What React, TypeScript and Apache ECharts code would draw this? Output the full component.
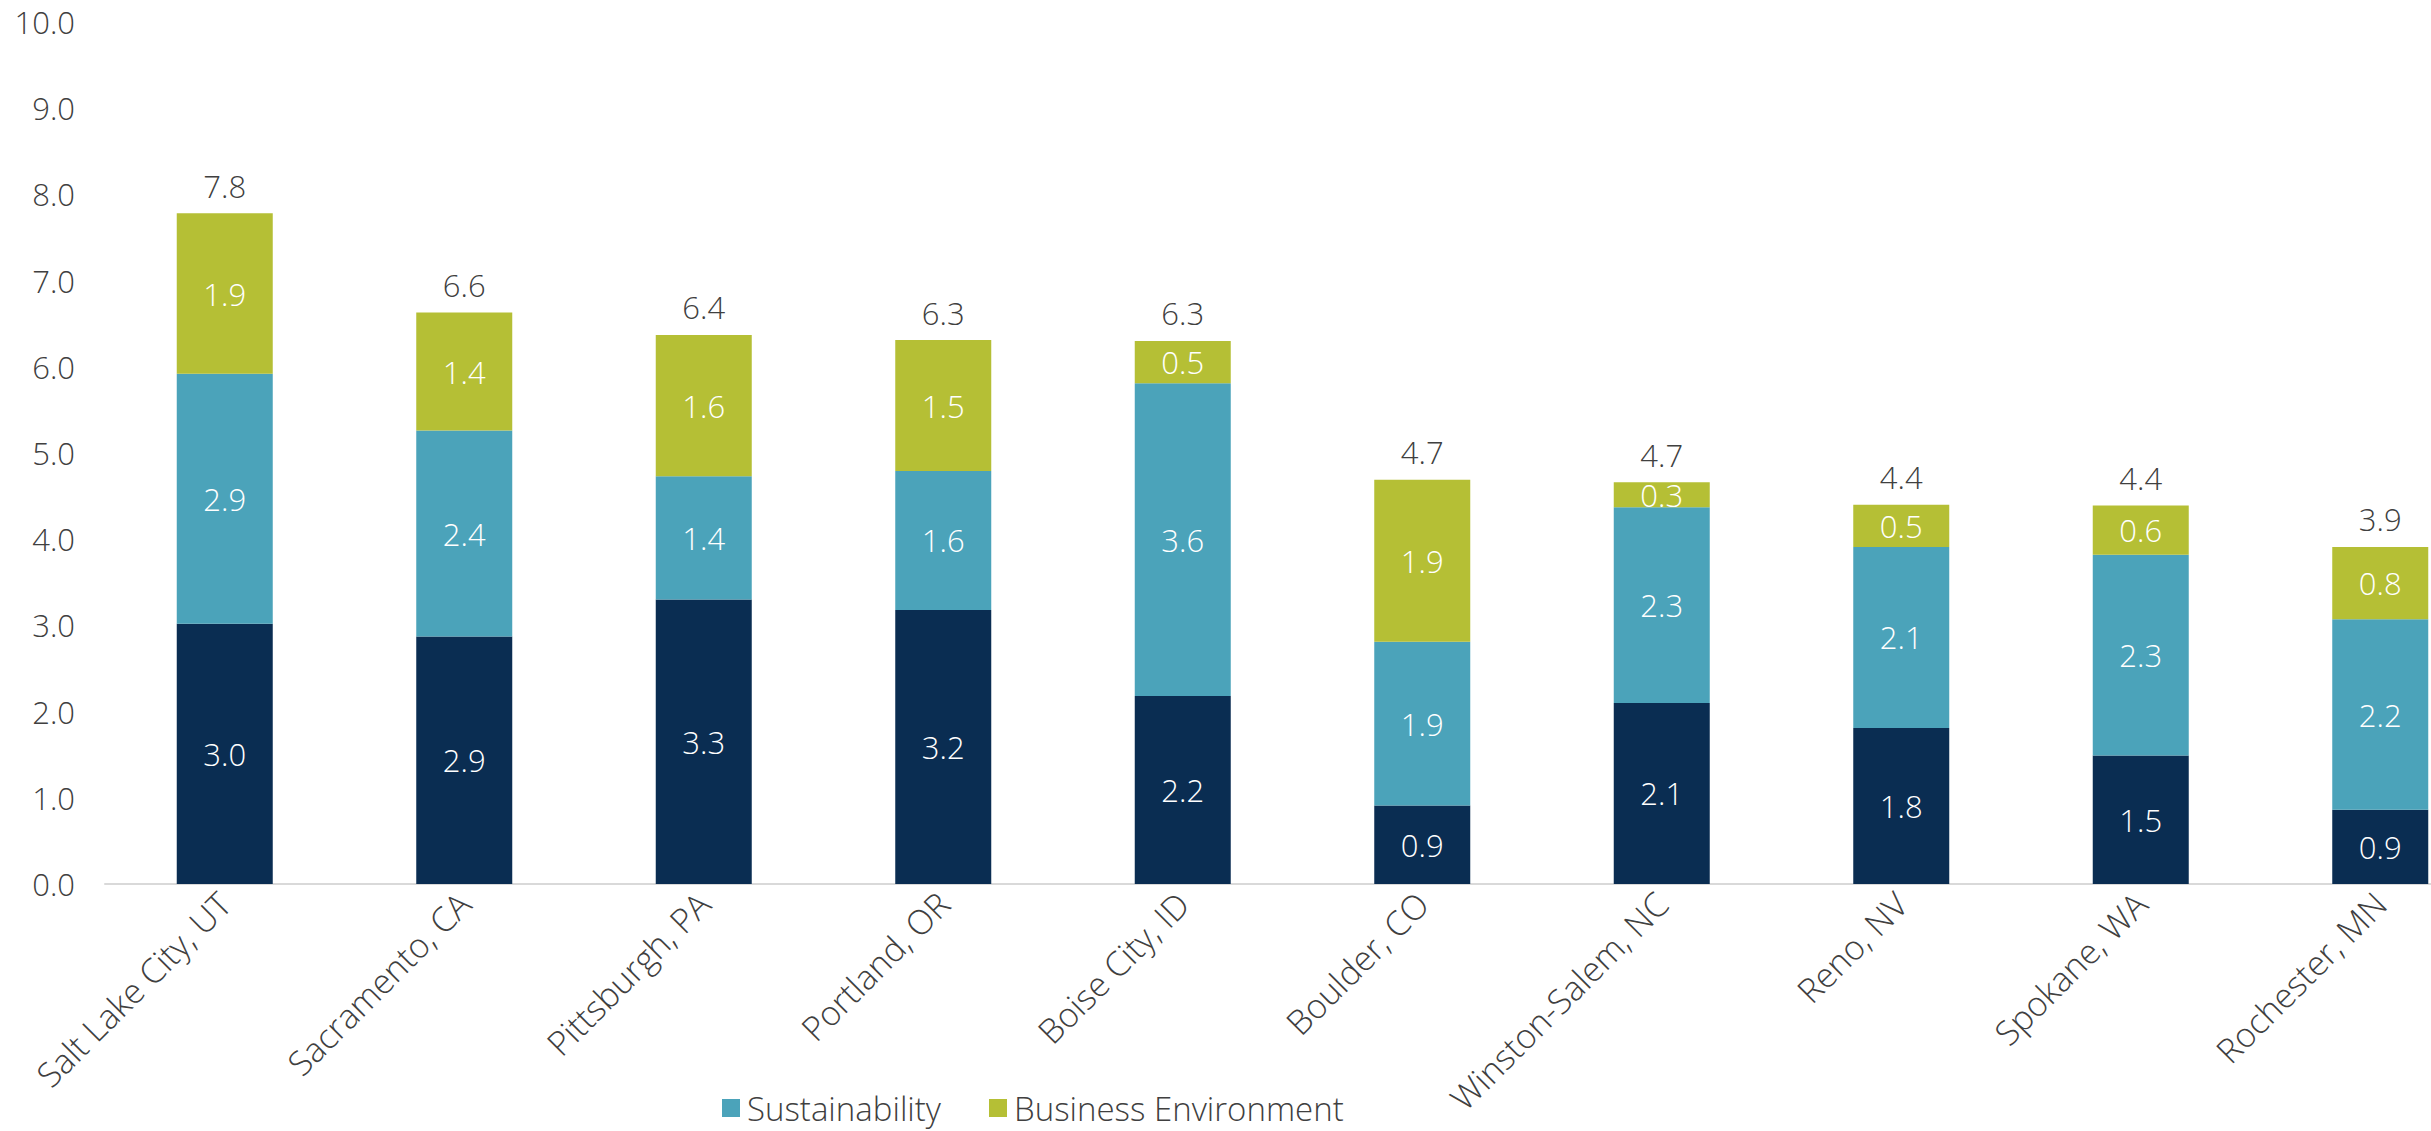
import React, { useEffect, useRef } from "react";
import * as echarts from "echarts";

const categories = [
  "Salt Lake City, UT",
  "Sacramento, CA",
  "Pittsburgh, PA",
  "Portland, OR",
  "Boise City, ID",
  "Boulder, CO",
  "Winston-Salem, NC",
  "Reno, NV",
  "Spokane, WA",
  "Rochester, MN",
];
const baseValues = [3.02, 2.87, 3.3, 3.18, 2.18, 0.91, 2.1, 1.81, 1.49, 0.86];
const sustainability = [2.9, 2.39, 1.43, 1.61, 3.63, 1.9, 2.27, 2.1, 2.33, 2.21];
const businessEnv = [1.86, 1.37, 1.64, 1.52, 0.49, 1.88, 0.29, 0.49, 0.57, 0.84];
const totals = [7.8, 6.6, 6.4, 6.3, 6.3, 4.7, 4.7, 4.4, 4.4, 3.9];
const yTicks = [0, 1, 2, 3, 4, 5, 6, 7, 8, 9, 10];

const FONT = "Open Sans";
const TEXT = "#404040";

export default function App() {
  const ref = useRef<HTMLDivElement>(null);
  useEffect(() => {
    document.body.style.margin = "0";
    document.body.style.overflow = "hidden";
    if (!ref.current) return;
    const chart = echarts.init(ref.current, null, { renderer: "svg" });
    const insideLabel = {
      show: true,
      position: "inside",
      color: "#ffffff",
      fontSize: 31,
      fontFamily: FONT,
      fontWeight: 300,
      formatter: (p: any) => Number(p.value).toFixed(1),
    };
    chart.setOption({
      animation: false,
      backgroundColor: "#ffffff",
      textStyle: { fontFamily: FONT },
      grid: { left: 105, top: 22, right: 0, height: 862, containLabel: false },
      legend: {
        data: ["Sustainability", "Business Environment"],
        left: 722,
        top: 1089,
        padding: 0,
        itemWidth: 18,
        itemHeight: 18,
        itemGap: 48,
        icon: "rect",
        textStyle: {
          fontSize: 33,
          lineHeight: 38,
          color: TEXT,
          fontFamily: FONT,
          fontWeight: 300,
          padding: [0, 0, 0, 2],
        },
      },
      xAxis: {
        type: "category",
        data: categories,
        axisLine: { show: true, lineStyle: { color: "#D9D9D9", width: 2 } },
        axisTick: { show: false },
        axisLabel: {
          rotate: 45,
          fontSize: 34,
          color: TEXT,
          fontFamily: FONT,
          fontWeight: 300,
          margin: 14,
          interval: 0,
        },
      },
      yAxis: {
        type: "value",
        min: yTicks[0],
        max: yTicks[yTicks.length - 1],
        interval: 1,
        splitLine: { show: false },
        axisLine: { show: false },
        axisTick: { show: false },
        axisLabel: {
          fontSize: 31,
          color: TEXT,
          fontFamily: FONT,
          fontWeight: 300,
          margin: 30,
          formatter: (v: number) => v.toFixed(1),
        },
      },
      series: [
        {
          name: "Base",
          type: "bar",
          stack: "s",
          barWidth: 96,
          data: baseValues,
          itemStyle: { color: "#0A2D52" },
          label: insideLabel,
        },
        {
          name: "Sustainability",
          type: "bar",
          stack: "s",
          barWidth: 96,
          data: sustainability,
          itemStyle: { color: "#4BA3BA" },
          label: insideLabel,
        },
        {
          name: "Business Environment",
          type: "bar",
          stack: "s",
          barWidth: 96,
          data: businessEnv,
          itemStyle: { color: "#B5BF35" },
          label: insideLabel,
        },
        {
          name: "Total",
          type: "bar",
          stack: "s",
          barWidth: 96,
          data: totals.map(() => 0),
          itemStyle: { color: "transparent" },
          label: {
            show: true,
            position: "top",
            distance: 12,
            color: TEXT,
            fontSize: 31,
            fontFamily: FONT,
            fontWeight: 300,
            formatter: (p: any) => totals[p.dataIndex].toFixed(1),
          },
        },
      ],
    });
    return () => chart.dispose();
  }, []);
  return (
    <div
      ref={ref}
      style={{ position: "fixed", left: 0, top: 0, width: 2500, height: 1131 }}
    />
  );
}
